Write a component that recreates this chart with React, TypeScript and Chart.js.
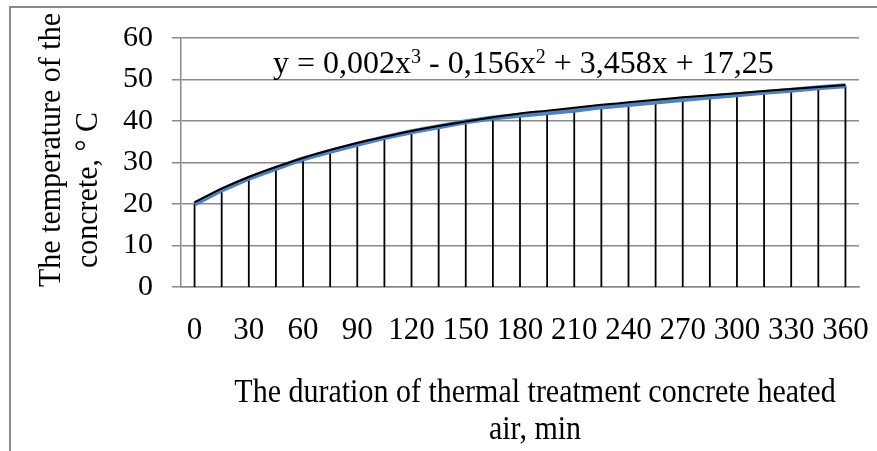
import React, { useEffect, useRef } from 'react';
import { Chart, registerables } from 'chart.js';

Chart.register(...registerables);

// ---- data ----
const timeLabels = ['0', '15', '30', '45', '60', '75', '90', '105', '120', '135', '150', '165', '180', '195', '210', '225', '240', '255', '270', '285', '300', '315', '330', '345', '360'];
const measuredTemp = [20.0, 23.4, 26.2, 28.6, 30.9, 32.7, 34.4, 36.0, 37.4, 38.6, 39.8, 40.7, 41.4, 42.0, 42.6, 43.4, 44.0, 44.6, 45.2, 45.8, 46.3, 46.9, 47.4, 48.0, 48.5];
const trendTemp = [20.4, 23.7, 26.5, 28.9, 31.1, 33.0, 34.7, 36.2, 37.6, 38.8, 39.9, 40.9, 41.8, 42.5, 43.2, 43.9, 44.5, 45.1, 45.7, 46.2, 46.7, 47.2, 47.7, 48.2, 48.7];
const yMin = 0;
const yMax = 60;
const yStep = 10;
const yTitleLines = ['The temperature of the', 'concrete, \u00B0 C'];
const xTitleLines = ['The duration of thermal treatment concrete heated', 'air, min'];
const equationParts = [
  { text: 'y = 0,002x', sup: false },
  { text: '3', sup: true },
  { text: ' - 0,156x', sup: false },
  { text: '2', sup: true },
  { text: ' + 3,458x + 17,25', sup: false },
];

const FONT = "'Liberation Serif', 'Times New Roman', serif";
const GRID = '#8a8a8a';

const decorPlugin = {
  id: 'decor',
  beforeDatasetsDraw(chart: any) {
    const ctx = chart.ctx;
    const meta = chart.getDatasetMeta(0);
    const y0 = chart.scales.y.getPixelForValue(0);
    ctx.save();
    ctx.strokeStyle = '#000';
    ctx.lineWidth = 1.8;
    meta.data.forEach((pt: any) => {
      ctx.beginPath();
      ctx.moveTo(pt.x, pt.y);
      ctx.lineTo(pt.x, y0);
      ctx.stroke();
    });
    ctx.restore();
  },
  afterDraw(chart: any) {
    const ctx = chart.ctx;
    ctx.save();
    // outer frame
    ctx.strokeStyle = GRID;
    ctx.lineWidth = 2;
    ctx.beginPath();
    ctx.moveTo(10, 460);
    ctx.lineTo(10, 7);
    ctx.lineTo(890, 7);
    ctx.stroke();

    ctx.fillStyle = '#000';
    ctx.textBaseline = 'alphabetic';
    // y title
    ctx.font = `30px ${FONT}`;
    ctx.textAlign = 'center';
    const yCenters = [{ x: 60, y: 150 }, { x: 97, y: 190 }];
    yTitleLines.forEach((line, i) => {
      ctx.save();
      ctx.translate(yCenters[i].x, yCenters[i].y);
      ctx.rotate(-Math.PI / 2);
      ctx.scale(1, 1.08);
      ctx.fillText(line, 0, 0);
      ctx.restore();
    });
    // x title
    const xBase = [402, 439];
    xTitleLines.forEach((line, i) => {
      ctx.save();
      ctx.translate(535, xBase[i]);
      ctx.scale(1, 1.12);
      ctx.fillText(line, 0, 0);
      ctx.restore();
    });
    // equation
    ctx.textAlign = 'left';
    let x = 273;
    const base = 73;
    equationParts.forEach((p) => {
      ctx.font = p.sup ? `20px ${FONT}` : `32px ${FONT}`;
      const yy = p.sup ? base - 10 : base;
      ctx.fillText(p.text, x, yy);
      x += ctx.measureText(p.text).width;
    });
    ctx.restore();
  },
};

export default function App() {
  const ref = useRef<HTMLCanvasElement | null>(null);
  useEffect(() => {
    if (!ref.current) return;
    const chart = new Chart(ref.current, {
      type: 'line',
      data: {
        labels: timeLabels,
        datasets: [
          {
            label: 'Measured',
            data: measuredTemp,
            borderColor: '#4F81BD',
            borderWidth: 5,
            pointRadius: 0,
            tension: 0,
            order: 2,
          },
          {
            label: 'Trend',
            data: trendTemp,
            borderColor: '#000000',
            borderWidth: 2,
            pointRadius: 0,
            cubicInterpolationMode: 'monotone',
            order: 1,
          },
        ],
      },
      options: {
        responsive: false,
        animation: false,
        layout: { padding: { left: 0, right: 18, top: 38, bottom: 0 } },
        plugins: {
          legend: { display: false },
          tooltip: { enabled: false },
          title: { display: false },
        },
        scales: {
          x: {
            type: 'category',
            offset: true,
            grid: { display: false, drawTicks: false },
            border: { display: true, color: GRID, width: 1.5 },
            ticks: {
              autoSkip: false,
              maxRotation: 0,
              minRotation: 0,
              padding: 25,
              color: '#000',
              font: { family: FONT, size: 31 },
              callback: (_v: any, i: number) => (i % 2 === 0 ? timeLabels[i] : ''),
            },
            afterFit: (s: any) => {
              s.height = 451 - 287;
              s.paddingLeft = 0;
              s.paddingRight = 0;
            },
          },
          y: {
            min: yMin,
            max: yMax,
            ticks: {
              stepSize: yStep,
              padding: 19,
              color: '#000',
              font: { family: FONT, size: 30 },
            },
            grid: { color: GRID, lineWidth: 1.5, tickLength: 9, drawTicks: true },
            border: { color: GRID, width: 1.5 },
            afterFit: (s: any) => {
              s.width = 181;
              s.paddingTop = 0;
              s.paddingBottom = 0;
            },
          },
        },
      },
      plugins: [decorPlugin],
    } as any);
    return () => chart.destroy();
  }, []);
  return (
    <div style={{ position: 'fixed', left: 0, top: 0, width: 877, height: 451, background: '#fff' }}>
      <canvas ref={ref} width={877} height={451} style={{ width: 877, height: 451, display: 'block' }} />
    </div>
  );
}
